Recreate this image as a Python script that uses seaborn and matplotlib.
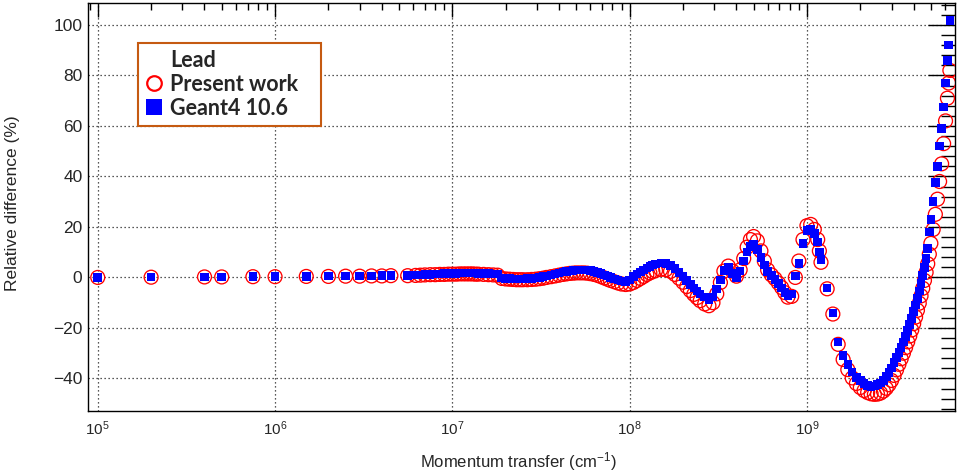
import numpy as np
import pandas as pd
import matplotlib
matplotlib.use("Agg")
import matplotlib.pyplot as plt
from matplotlib.lines import Line2D
from matplotlib.ticker import LogLocator, MultipleLocator, NullFormatter
from matplotlib.font_manager import FontProperties
import seaborn as sns

# ---------------- data (momentum transfer in units of 1e6 cm^-1) ----------------
q_low = [0.1, 0.2, 0.4, 0.5, 0.75, 1.0, 1.5, 2.0, 2.5, 3.0, 3.5, 4.0, 4.5, 5.6]
pw_low = [0.0, 0.1, 0.2, 0.2, 0.3, 0.3, 0.4, 0.4, 0.5, 0.5, 0.6, 0.6, 0.7, 0.7]
g4_low = [0.0, 0.1, 0.2, 0.2, 0.3, 0.3, 0.4, 0.5, 0.5, 0.6, 0.6, 0.7, 0.7, 0.8]

q_mid = [6.2, 6.6, 7.0, 7.5, 8.0, 8.5, 9.0, 9.5,
         10, 10.5, 11, 11.5, 12, 12.5, 13, 13.5, 14,
         15, 16, 17, 18,
         19, 20, 21, 22, 23, 24, 25,
         26.5, 28, 29.5, 31, 32.5, 34,
         36, 38, 40, 42, 44, 46, 48, 50,
         52.5, 55, 57.5, 60,
         63, 66, 69, 72, 75, 78,
         82, 86, 90, 95]
pw_mid = [0.8, 0.9, 1.0, 1.1, 1.1, 1.2, 1.2, 1.3,
          1.3, 1.3, 1.4, 1.4, 1.4, 1.4, 1.4, 1.3, 1.3,
          1.2, 1.1, 1.0, 0.9,
          -0.4, -0.6, -0.7, -0.8, -0.9, -0.9, -0.9,
          -0.9, -0.8, -0.7, -0.5, -0.3, 0.0,
          0.3, 0.6, 0.9, 1.2, 1.4, 1.6, 1.7, 1.8,
          1.8, 1.8, 1.7, 1.5,
          1.2, 0.8, 0.3, -0.2, -0.7, -1.2,
          -1.7, -2.2, -2.6, -2.8]
g4_mid = [0.9, 1.0, 1.1, 1.2, 1.3, 1.4, 1.5, 1.5,
          1.6, 1.6, 1.7, 1.7, 1.7, 1.7, 1.7, 1.7, 1.6,
          1.6, 1.5, 1.4, 1.3,
          -0.2, -0.4, -0.5, -0.6, -0.6, -0.6, -0.6,
          -0.5, -0.4, -0.2, 0.0, 0.3, 0.6,
          1.0, 1.4, 1.8, 2.1, 2.4, 2.6, 2.8, 2.9,
          3.0, 3.0, 2.9, 2.7,
          2.4, 2.0, 1.5, 1.0, 0.5, 0.0,
          -0.6, -1.1, -1.4, -1.5]

q_osc = [100, 105, 110, 115, 120, 125, 130, 135, 140,
         150, 160, 170, 180, 190, 200, 210, 220, 230, 240, 250,
         265, 280, 295, 310, 325, 340,
         360, 380, 400, 420, 440, 460, 480, 500,
         525, 550, 575, 600,
         630, 660, 690, 720, 750, 780,
         820, 860, 900, 950,
         1000, 1050, 1100, 1150, 1175]
pw_osc = [-2.6, -2.0, -1.2, -0.4, 0.4, 1.2, 1.8, 2.3, 2.7,
          3.2, 3.1, 2.4, 1.2, -0.3, -1.9, -3.6, -5.2, -6.7, -8.0, -9.2,
          -10.5, -11.2, -10.0, -6.5, -2.0, 2.5,
          4.5, 2.5, 0.5, 3.0, 7.5, 12.0, 15.0, 16.2,
          14.5, 10.5, 6.5, 3.0,
          1.0, -0.5, -2.2, -4.0, -6.0, -7.8,
          -7.5, 0.0, 6.5, 15.0,
          20.5, 21.0, 19.0, 15.0, 10.5]
g4_osc = [-1.0, 0.3, 1.3, 2.2, 3.0, 3.8, 4.4, 4.9, 5.3,
          5.8, 5.6, 4.8, 3.6, 2.0, 0.3, -1.3, -2.8, -4.2, -5.4, -6.5,
          -7.8, -8.7, -7.8, -4.5, -1.0, 2.8,
          4.0, 1.5, -0.2, 2.5, 6.5, 10.0, 12.3, 13.2,
          11.0, 8.0, 5.0, 2.3,
          0.8, -0.8, -2.5, -4.2, -6.0, -7.4,
          -6.5, 0.5, 5.5, 13.5,
          18.5, 19.0, 17.5, 14.0, 10.0]

q_tail = [1200, 1300, 1400, 1500, 1600, 1700, 1800, 1900, 2000,
          2100, 2200, 2300, 2400, 2500, 2600, 2700, 2800, 2900, 3000,
          3100, 3200, 3300, 3400, 3500, 3600, 3700, 3800, 3900, 4000,
          4100, 4200, 4300, 4400, 4500, 4600, 4700, 4800, 4900,
          5000, 5150, 5300, 5450, 5600, 5750, 5900, 6050, 6200, 6300, 6400]
pw_tail = [6.0, -4.5, -14.5, -26.5, -32.5, -36.5, -39.8, -42.0, -43.6,
           -44.8, -45.6, -46.1, -46.3, -46.2, -45.8, -45.0, -43.9, -42.5, -40.8,
           -38.8, -36.6, -34.4, -32.2, -30.0, -27.8, -25.5, -23.2, -20.8, -18.3,
           -15.7, -13.0, -10.2, -7.3, -4.3, -1.2, 2.0, 5.4, 9.2,
           13.5, 19.0, 25.0, 31.0, 38.0, 45.0, 53.0, 62.0, 71.0, 77.0, 82.0]
g4_tail = [7.1, -4.1, -14.0, -25.6, -31.0, -34.4, -37.5, -39.6, -40.8,
           -41.9, -42.7, -43.1, -43.0, -42.5, -41.8, -40.8, -39.3, -37.6, -35.8,
           -33.8, -31.8, -29.8, -27.8, -25.6, -23.4, -21.0, -18.7, -16.2, -13.6,
           -11.0, -8.3, -5.4, -2.4, 0.8, 4.0, 7.4, 11.5, 18.0,
           23.0, 30.0, 37.5, 44.0, 52.0, 59.0, 67.5, 77.0, 86.0, 92.0, 101.7]

legend_title = "Lead"
series_labels = ["Present work", "Geant4 10.6"]
x_label = "Momentum transfer (cm$^{-1}$)"
y_label = "Relative difference (%)"

df = pd.DataFrame({
    "q": np.array(q_low + q_mid + q_osc + q_tail) * 1e6,
    "present": pw_low + pw_mid + pw_osc + pw_tail,
    "geant4": g4_low + g4_mid + g4_osc + g4_tail,
})

# ---------------- style ----------------
sns.set_style("white")
plt.rcParams["font.family"] = ["Liberation Sans", "DejaVu Sans"]
plt.rcParams["mathtext.fontset"] = "custom"
plt.rcParams["mathtext.rm"] = "Liberation Sans"
plt.rcParams["mathtext.it"] = "Liberation Sans:italic"
plt.rcParams["mathtext.bf"] = "Liberation Sans:bold"
plt.rcParams["mathtext.default"] = "regular"

W, H = 957, 472
fig = plt.figure(figsize=(W / 100, H / 100), dpi=100)
fig.patch.set_facecolor("white")
L, R, T, B = 88, 955, 3, 411
ax = fig.add_axes([L / W, 1 - B / H, (R - L) / W, (B - T) / H])
ax.set_facecolor("white")

sns.scatterplot(data=df, x="q", y="present", ax=ax, marker="o", s=100,
                facecolor="none", edgecolor="red", linewidth=0.95,
                zorder=3, legend=False)
sns.scatterplot(data=df, x="q", y="geant4", ax=ax, marker="s", s=38,
                color="blue", edgecolor="none", linewidth=0,
                zorder=4, legend=False)

ax.set_xscale("log")
ax.set_xlim(8.81e4, 6.84e9)
ax.set_ylim(-52.9, 108.7)

ax.xaxis.set_major_locator(LogLocator(base=10, numticks=20))
ax.xaxis.set_minor_locator(LogLocator(base=10, subs=np.arange(2, 10), numticks=20))
ax.xaxis.set_minor_formatter(NullFormatter())
ax.yaxis.set_major_locator(MultipleLocator(20))
ax.yaxis.set_minor_locator(MultipleLocator(4))

ax.tick_params(which="both", direction="in", top=True, right=True,
               color="black", width=1.0)
ax.tick_params(axis="y", which="major", length=19.5, pad=4, labelsize=12.5)
ax.tick_params(axis="y", which="minor", length=10)
ax.tick_params(axis="x", which="major", length=10, pad=6, labelsize=11)
ax.tick_params(axis="x", which="minor", length=5)

for sp in ax.spines.values():
    sp.set_visible(True)
    sp.set_color("black")
    sp.set_linewidth(1.0)

ax.set_axisbelow(True)
ax.grid(True, which="major", linestyle=(0, (1, 2.2)), color="#222222", linewidth=0.9)

ax.set_xlabel(x_label, fontsize=12)
ax.set_ylabel(y_label, fontsize=12.5)
ax.xaxis.set_label_coords(0.496, -0.095)
ax.yaxis.set_label_coords(-0.079, 0.51)

h_title = Line2D([], [], linestyle="none", marker="None")
h_pw = Line2D([], [], linestyle="none", marker="o", markersize=10.5,
              markerfacecolor="none", markeredgecolor="red", markeredgewidth=1.6)
h_g4 = Line2D([], [], linestyle="none", marker="s", markersize=11,
              markerfacecolor="blue", markeredgecolor="blue", markeredgewidth=0)
leg_x0 = (138 - L) / (R - L)
leg_top = (B - 43) / (B - T)
leg_w = (321 - 138) / (R - L)
leg = ax.legend([h_title, h_pw, h_g4], [legend_title] + series_labels,
                loc="upper left", bbox_to_anchor=(leg_x0, leg_top - 0.3, leg_w, 0.3),
                mode="expand", borderaxespad=0, fancybox=False, shadow=False,
                framealpha=1, handlelength=0.85, handletextpad=0.32,
                borderpad=0.32, labelspacing=0.14,
                prop=FontProperties(family="Lato", weight="bold", size=15.5))
leg.get_frame().set_edgecolor("#C55A11")
leg.get_frame().set_linewidth(1.5)
leg.set_zorder(10)

fig.savefig("out.png", dpi=100, facecolor="white")
